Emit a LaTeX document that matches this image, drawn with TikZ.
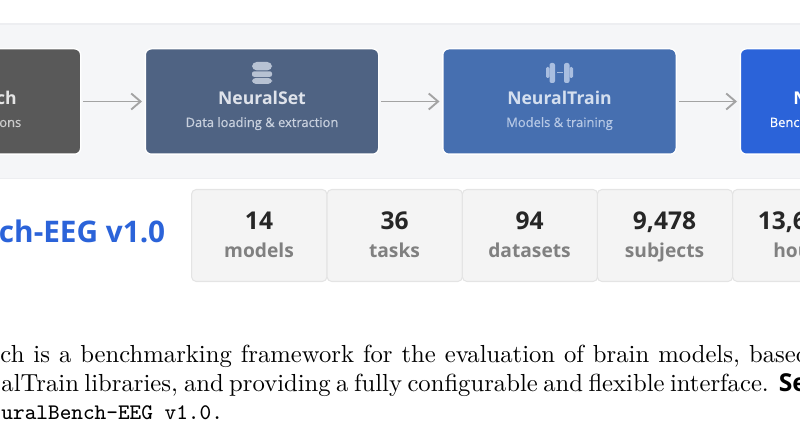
\documentclass[tikz,border=0pt]{standalone}
\usepackage{fontspec}
\setsansfont{Open Sans}
\newfontfamily\subfont[FakeBold=0.35]{Open Sans}
\usepackage{tikz}
\usetikzlibrary{arrows.meta}
\definecolor{PanelFill}{HTML}{F5F6F8}
\definecolor{PanelLine}{HTML}{EDEEF1}
\definecolor{FetchFill}{HTML}{595959}
\definecolor{SetFill}{HTML}{4F6383}
\definecolor{TrainFill}{HTML}{466FB0}
\definecolor{BenchFill}{HTML}{2B63D9}
\definecolor{SetIcon}{HTML}{B7C2D3}
\definecolor{TrainIcon}{HTML}{A9BEE0}
\definecolor{StatFill}{HTML}{F4F4F4}
\definecolor{StatLine}{HTML}{E4E4E4}
\definecolor{StatValue}{HTML}{262626}
\definecolor{StatLabel}{HTML}{808080}
\definecolor{ArrowGray}{HTML}{A3A3A3}
\pgfdeclarelayer{panel_layer}
\pgfdeclarelayer{lineas_layer}
\pgfdeclarelayer{esquema}
\pgfsetlayers{panel_layer,lineas_layer,esquema,main}
\tikzstyle{panel}=[draw=PanelLine,fill=PanelFill,line width=1pt,minimum width=630pt,minimum height=116pt,inner sep=0pt]
\tikzstyle{module}=[draw=white,line width=1pt,rounded corners=4.5pt,minimum width=175pt,minimum height=79pt,inner sep=0pt]
\tikzstyle{modtitle}=[font=\sffamily\bfseries\fontsize{13.2}{13.2}\selectfont,anchor=base,inner sep=0pt]
\tikzstyle{modsub}=[font=\subfont\fontsize{9.7}{9.7}\selectfont,anchor=base,inner sep=0pt]
\tikzstyle{stat}=[draw=StatLine,fill=StatFill,line width=0.8pt,rounded corners=3.5pt,minimum width=101.5pt,minimum height=69pt,inner sep=0pt]
\tikzstyle{statvalue}=[font=\sffamily\bfseries\fontsize{18.4}{18.4}\selectfont,text=StatValue,anchor=base,inner sep=0pt]
\tikzstyle{statlabel}=[font=\sffamily\bfseries\fontsize{14.4}{14.4}\selectfont,text=StatLabel,anchor=base,inner sep=0pt]
\tikzstyle{heading}=[font=\sffamily\bfseries\fontsize{22.3}{22.3}\selectfont,text=BenchFill,anchor=base east,inner sep=0pt]
\tikzstyle{body}=[scale=1.85,anchor=base west,inner sep=0pt]
\tikzstyle{line}=[draw=ArrowGray,line width=1.4pt,-{Straight Barb[length=7pt,width=12pt]},shorten >=2pt,shorten <=1.5pt]
\begin{document}
\begin{tikzpicture}[x=0.75pt,y=-0.75pt]
		\useasboundingbox (0,0) rectangle (800,445);
		\begin{pgfonlayer}{panel_layer}
			\node [style=panel] (fondo) at (400,101.5) {};
		\end{pgfonlayer}
		\begin{pgfonlayer}{esquema}
			\node [style=module,fill=FetchFill] (fetch) at (-36,101.5) {};
			\node [style=module,fill=SetFill] (set) at (262,101.5) {};
			\node [style=module,fill=TrainFill] (train) at (559.5,101.5) {};
			\node [style=module,fill=BenchFill] (bench) at (857,101.5) {};
			\node [style=stat] (models) at (259.25,235.5) {};
			\node [style=stat] (tasks) at (394.75,235.5) {};
			\node [style=stat] (datasets) at (530,235.5) {};
			\node [style=stat] (subjects) at (665,235.5) {};
			\node [style=stat] (hours) at (800.25,235.5) {};
		\end{pgfonlayer}
		\begin{pgfonlayer}{lineas_layer}
			\path [style=line] (fetch) -- (set);
			\path [style=line] (set) -- (train);
			\path [style=line] (train) -- (bench);
		\end{pgfonlayer}
		\node [style=modtitle,text=white!90!black,anchor=base east] (fetch_title) at (17,104.5) {ch};
		\node [style=modsub,text=white!80!black,anchor=base east] (fetch_sub) at (21.5,127) {ons};
		\node [style=modtitle,text=SetIcon!45!white] (set_title) at (262,104.5) {NeuralSet};
		\node [style=modsub,text=SetIcon!75!white] (set_sub) at (262,127) {Data loading \& extraction};
		\node [style=modtitle,text=TrainIcon!50!white] (train_title) at (559.5,104.5) {NeuralTrain};
		\node [style=modsub,text=TrainIcon!85!white] (train_sub) at (559.5,127) {Models \& training};
		\node [style=modtitle,text=white,anchor=base west] (bench_title) at (793,104.5) {N};
		\node [style=modsub,text=white,anchor=base west] (bench_sub) at (769.5,127) {Benc};
		\fill [SetIcon,rounded corners=3.5pt] (252,62) rectangle (272,70.4);
		\fill [SetIcon,rounded corners=1.5pt] (252,71.4) rectangle (272,76.8);
		\fill [SetIcon,rounded corners=3pt] (252,77.8) rectangle (272,84);
		\foreach \side in {-1,1} {
			\fill [TrainIcon,rounded corners=1pt] (559.5+\side*10,67) rectangle (559.5+\side*13.5,78);
			\fill [TrainIcon,rounded corners=1.5pt] (559.5+\side*4.5,63) rectangle (559.5+\side*10,83);
		}
		\fill [TrainIcon] (556.5,71.7) rectangle (562.5,73.5);
		\node [style=heading] (titulo) at (165.5,243) {ch-EEG v1.0};
		\node [style=statvalue] (models_n) at (259,229.5) {14};
		\node [style=statlabel] (models_l) at (259,257.5) {models};
		\node [style=statvalue] (tasks_n) at (394.5,229.5) {36};
		\node [style=statlabel] (tasks_l) at (394.5,257.5) {tasks};
		\node [style=statvalue] (datasets_n) at (529.5,229.5) {94};
		\node [style=statlabel] (datasets_l) at (529.5,257.5) {datasets};
		\node [style=statvalue] (subjects_n) at (664.5,229.5) {9,478};
		\node [style=statlabel] (subjects_l) at (664.5,257.5) {subjects};
		\node [style=statvalue,anchor=base west] (hours_n) at (757.5,229.5) {13,6};
		\node [style=statlabel,anchor=base west] (hours_l) at (773,257.5) {hou};
		\node [style=body] (linea1) at (0,362.5) {\hbox to 328pt{ch is a benchmarking framework for the evaluation of brain models, based}};
		\node [style=body] (linea2) at (1,391.5) {\hbox to 326pt{alTrain libraries, and providing a fully configurable and flexible interface. \textbf{\sffamily Se}}};
		\node [style=body] (linea3) at (1,419.5) {\fontsize{9}{9}\ttfamily uralBench-EEG v1.0.};
\end{tikzpicture}
\end{document}
